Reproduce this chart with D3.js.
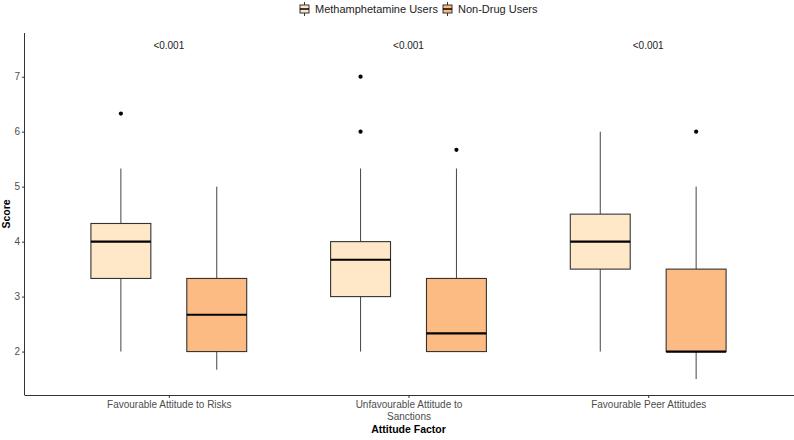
<!DOCTYPE html>
<html>
<head>
<meta charset="utf-8">
<script src="https://cdn.jsdelivr.net/npm/d3@7"></script>
<style>
  body { margin: 0; background: #fff; }
  svg { display: block; font-family: "Liberation Sans", Arial, sans-serif; }
</style>
</head>
<body>
<div id="chart"></div>
<script>
var categories = ["Favourable Attitude to Risks", "Unfavourable Attitude to Sanctions", "Favourable Peer Attitudes"];
var tickLines = [["Favourable Attitude to Risks"], ["Unfavourable Attitude to", "Sanctions"], ["Favourable Peer Attitudes"]];
var groups = ["Methamphetamine Users", "Non-Drug Users"];
var colors = ["#FEE8C8", "#FDBB84"];

// box stats, one entry per category
var methLower  = [2, 2, 2];
var methQ1     = [3.33, 3, 3.5];
var methMedian = [4, 3.67, 4];
var methQ3     = [4.33, 4, 4.5];
var methUpper  = [5.33, 5.33, 6];
var methOut    = [[6.33], [6, 7], []];

var nonLower  = [1.67, 2, 1.5];
var nonQ1     = [2, 2, 2];
var nonMedian = [2.67, 2.33, 2];
var nonQ3     = [3.33, 3.33, 3.5];
var nonUpper  = [5, 5.33, 5];
var nonOut    = [[], [5.67], [6]];

var pValues = ["<0.001", "<0.001", "<0.001"];
var pY = 7.5;
var yTicks = [2, 3, 4, 5, 6, 7];

var W = 794, H = 440;
var margin = {top: 33, right: 2, bottom: 45, left: 25};
var w = W - margin.left - margin.right;
var h = H - margin.top - margin.bottom;

var svg = d3.select("#chart").append("svg")
    .attr("width", W).attr("height", H);
var g = svg.append("g")
    .attr("transform", "translate(" + margin.left + "," + margin.top + ")");

var x = d3.scalePoint().domain(categories).range([0, w]).padding(0.6);
var y = d3.scaleLinear().domain([1.21, 7.795]).range([h, 0]);
var step = x.step();
var dodge = d3.scaleOrdinal().domain(groups).range([-0.2 * step, 0.2 * step]);
var boxW = 0.25 * step;

var boxes = [];
categories.forEach(function(c, i) {
  boxes.push({cat: c, grp: groups[0], lo: methLower[i], q1: methQ1[i], med: methMedian[i], q3: methQ3[i], hi: methUpper[i], out: methOut[i], fill: colors[0]});
  boxes.push({cat: c, grp: groups[1], lo: nonLower[i], q1: nonQ1[i], med: nonMedian[i], q3: nonQ3[i], hi: nonUpper[i], out: nonOut[i], fill: colors[1]});
});

var bg = g.selectAll("g.box").data(boxes).enter().append("g")
    .attr("class", "box")
    .attr("transform", function(d) { return "translate(" + (x(d.cat) + dodge(d.grp)) + ",0)"; });

// whiskers
bg.append("line")
    .attr("x1", 0).attr("x2", 0)
    .attr("y1", function(d) { return y(d.q3); })
    .attr("y2", function(d) { return y(d.hi); })
    .attr("stroke", "#444").attr("stroke-width", 1);
bg.append("line")
    .attr("x1", 0).attr("x2", 0)
    .attr("y1", function(d) { return y(d.q1); })
    .attr("y2", function(d) { return y(d.lo); })
    .attr("stroke", "#444").attr("stroke-width", 1);

bg.append("rect")
    .attr("x", -boxW / 2)
    .attr("width", boxW)
    .attr("y", function(d) { return y(d.q3); })
    .attr("height", function(d) { return y(d.q1) - y(d.q3); })
    .attr("fill", function(d) { return d.fill; })
    .attr("stroke", "#333").attr("stroke-width", 1.1);

bg.append("line")
    .attr("x1", -boxW / 2).attr("x2", boxW / 2)
    .attr("y1", function(d) { return y(d.med); })
    .attr("y2", function(d) { return y(d.med); })
    .attr("stroke", "#000").attr("stroke-width", 2.2);

bg.selectAll("circle").data(function(d) { return d.out; }).enter().append("circle")
    .attr("cx", 0)
    .attr("cy", function(d) { return y(d); })
    .attr("r", 2.1)
    .attr("fill", "#000");

// p-values
g.selectAll("text.pval").data(categories).enter().append("text")
    .attr("class", "pval")
    .attr("x", function(d) { return x(d); })
    .attr("y", y(pY))
    .attr("text-anchor", "middle")
    .attr("font-size", "10px")
    .attr("fill", "#222")
    .text(function(d, i) { return pValues[i]; });

// axes
var xAxis = g.append("g")
    .attr("transform", "translate(0," + h + ")")
    .call(d3.axisBottom(x).tickSize(3).tickPadding(3).tickSizeOuter(0));
xAxis.select(".domain").attr("stroke", "#333").attr("d", "M0,0.5H" + (w + 2));
xAxis.selectAll(".tick line").attr("stroke", "#333");
xAxis.selectAll(".tick text").each(function(d, i) {
  var t = d3.select(this).text(null).attr("fill", "#4D4D4D").attr("font-size", "10px").attr("font-family", null);
  tickLines[i].forEach(function(s, k) {
    t.append("tspan").attr("x", 0).attr("dy", k === 0 ? "0.71em" : "1.15em").text(s);
  });
});

var yAxis = g.append("g")
    .call(d3.axisLeft(y).tickValues(yTicks).tickFormat(d3.format("d")).tickSize(3).tickPadding(2).tickSizeOuter(0));
yAxis.select(".domain").attr("stroke", "#333").attr("d", "M-0.5," + (h + 0.5) + "V0");
yAxis.selectAll(".tick line").attr("stroke", "#333");
yAxis.selectAll(".tick text").attr("fill", "#4D4D4D").attr("font-size", "10px").attr("font-family", null);

svg.append("text")
    .attr("x", margin.left + x(categories[1]))
    .attr("y", 433)
    .attr("text-anchor", "middle")
    .attr("font-size", "10.5px")
    .attr("font-weight", "bold")
    .text("Attitude Factor");

svg.append("text")
    .attr("transform", "translate(10," + (margin.top + h / 2) + ") rotate(-90)")
    .attr("text-anchor", "middle")
    .attr("font-size", "10.5px")
    .attr("font-weight", "bold")
    .text("Score");

// legend
var legend = svg.append("g").attr("transform", "translate(300,0)");
var lx = [0, 143];
groups.forEach(function(gr, i) {
  var k = legend.append("g").attr("transform", "translate(" + lx[i] + ",0)");
  k.append("line").attr("x1", 4.5).attr("x2", 4.5).attr("y1", 2).attr("y2", 16)
      .attr("stroke", "#333").attr("stroke-width", 1);
  k.append("rect").attr("x", 0).attr("y", 5).attr("width", 9).attr("height", 8)
      .attr("fill", colors[i]).attr("stroke", "#333").attr("stroke-width", 1);
  k.append("line").attr("x1", 0).attr("x2", 9).attr("y1", 9).attr("y2", 9)
      .attr("stroke", "#000").attr("stroke-width", 1.5);
  k.append("text").attr("x", 15).attr("y", 12.5)
      .attr("font-size", "11px").attr("fill", "#222").text(gr);
});
</script>
</body>
</html>
